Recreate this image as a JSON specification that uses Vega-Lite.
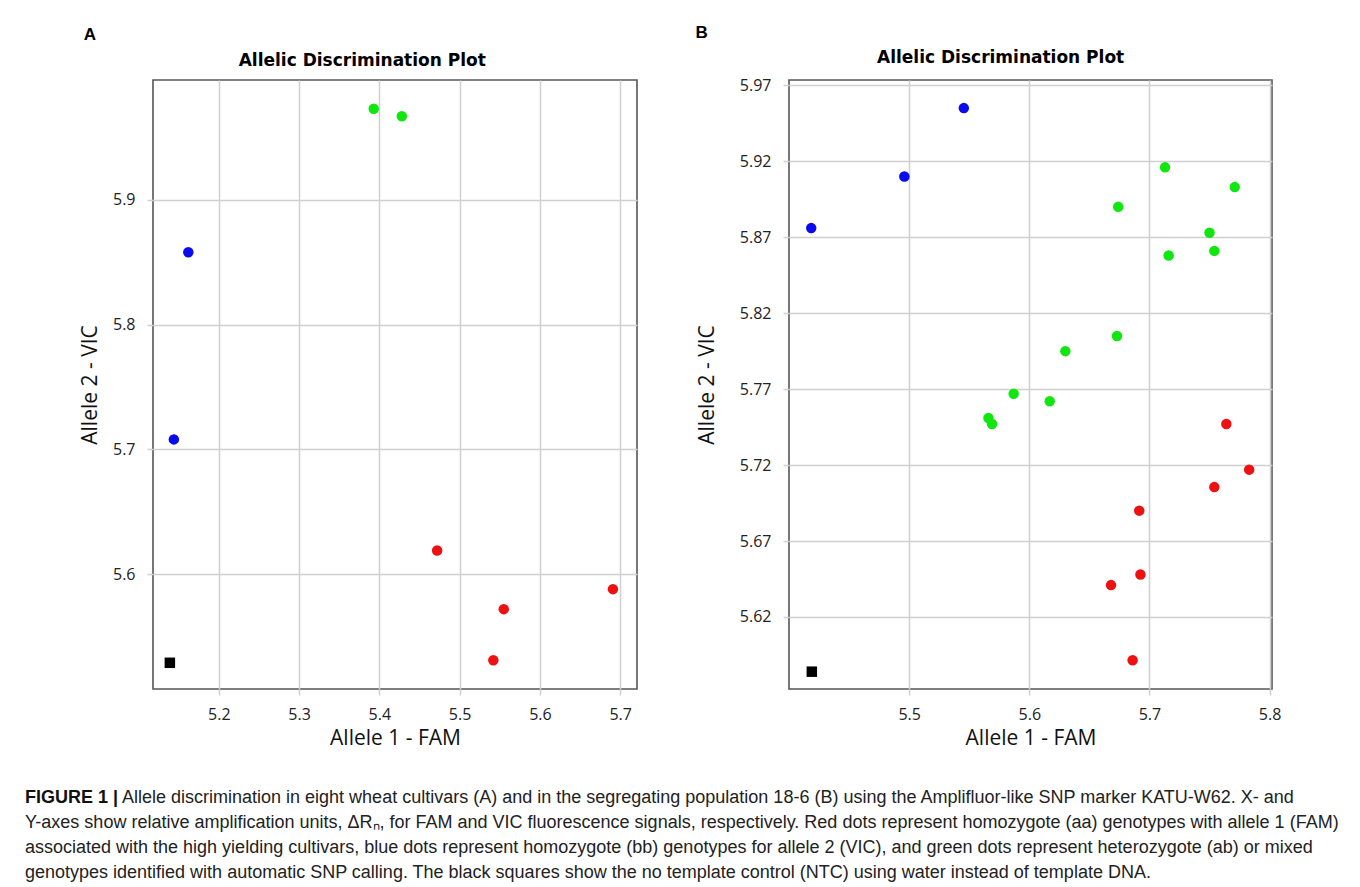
{
  "$schema": "https://vega.github.io/schema/vega-lite/v6.json",
  "padding": {"left": 25, "top": 23, "right": 5, "bottom": 5},
  "background": "white",
  "config": {
    "font": "Open Sans",
    "view": {"stroke": "#555555", "strokeWidth": 1.6},
    "axis": {
      "grid": true, "gridColor": "#d0d0d0", "gridWidth": 1.5, "domain": false,
      "ticks": true, "tickColor": "#d0d0d0", "tickSize": 6, "tickWidth": 1.5,
      "labelFont": "Open Sans", "labelFontSize": 16, "labelColor": "#222222", "labelPadding": 11,
      "labelFlush": false, "labelOverlap": false,
      "titleFont": "Open Sans", "titleFontWeight": "normal", "titleFontSize": 21, "titleColor": "#111111"
    },
    "concat": {"spacing": 57}
  },
  "datasets": {
    "A": [
      {"fam": 5.472, "vic": 5.619, "genotype": "aa"},
      {"fam": 5.691, "vic": 5.588, "genotype": "aa"},
      {"fam": 5.555, "vic": 5.572, "genotype": "aa"},
      {"fam": 5.542, "vic": 5.531, "genotype": "aa"},
      {"fam": 5.162, "vic": 5.858, "genotype": "bb"},
      {"fam": 5.144, "vic": 5.708, "genotype": "bb"},
      {"fam": 5.393, "vic": 5.973, "genotype": "ab"},
      {"fam": 5.428, "vic": 5.967, "genotype": "ab"},
      {"fam": 5.139, "vic": 5.529, "genotype": "NTC"}
    ],
    "B": [
      {"fam": 5.4185, "vic": 5.876, "genotype": "bb"},
      {"fam": 5.496, "vic": 5.910, "genotype": "bb"},
      {"fam": 5.5455, "vic": 5.955, "genotype": "bb"},
      {"fam": 5.713, "vic": 5.916, "genotype": "ab"},
      {"fam": 5.771, "vic": 5.903, "genotype": "ab"},
      {"fam": 5.674, "vic": 5.890, "genotype": "ab"},
      {"fam": 5.750, "vic": 5.873, "genotype": "ab"},
      {"fam": 5.754, "vic": 5.861, "genotype": "ab"},
      {"fam": 5.716, "vic": 5.858, "genotype": "ab"},
      {"fam": 5.673, "vic": 5.805, "genotype": "ab"},
      {"fam": 5.630, "vic": 5.795, "genotype": "ab"},
      {"fam": 5.587, "vic": 5.767, "genotype": "ab"},
      {"fam": 5.617, "vic": 5.762, "genotype": "ab"},
      {"fam": 5.566, "vic": 5.751, "genotype": "ab"},
      {"fam": 5.569, "vic": 5.747, "genotype": "ab"},
      {"fam": 5.764, "vic": 5.747, "genotype": "aa"},
      {"fam": 5.783, "vic": 5.717, "genotype": "aa"},
      {"fam": 5.754, "vic": 5.7055, "genotype": "aa"},
      {"fam": 5.6915, "vic": 5.690, "genotype": "aa"},
      {"fam": 5.6925, "vic": 5.648, "genotype": "aa"},
      {"fam": 5.668, "vic": 5.641, "genotype": "aa"},
      {"fam": 5.686, "vic": 5.5915, "genotype": "aa"},
      {"fam": 5.419, "vic": 5.584, "genotype": "NTC"}
    ],
    "caption": [
      {"line": 1, "part": "bold", "text": "FIGURE 1 |"},
      {"line": 1, "part": "rest", "text": "Allele discrimination in eight wheat cultivars (A) and in the segregating population 18-6 (B) using the Amplifluor-like SNP marker KATU-W62. X- and"},
      {"line": 2, "part": "body", "text": "Y-axes show relative amplification units, ΔRₙ, for FAM and VIC fluorescence signals, respectively. Red dots represent homozygote (aa) genotypes with allele 1 (FAM)"},
      {"line": 3, "part": "body", "text": "associated with the high yielding cultivars, blue dots represent homozygote (bb) genotypes for allele 2 (VIC), and green dots represent heterozygote (ab) or mixed"},
      {"line": 4, "part": "body", "text": "genotypes identified with automatic SNP calling. The black squares show the no template control (NTC) using water instead of template DNA."}
    ]
  },
  "vconcat": [
    {
      "hconcat": [
        {
          "title": {"text": "A", "anchor": "start", "font": "Liberation Sans", "fontSize": 17, "fontWeight": "bold", "color": "#000000", "baseline": "alphabetic", "offset": -6, "dx": 5},
          "vconcat": [
            {
              "title": {"text": "Allelic Discrimination Plot", "anchor": "middle", "frame": "bounds", "font": "DejaVu Sans", "fontSize": 17, "fontWeight": "bold", "color": "#000000", "baseline": "alphabetic", "offset": -3, "dx": 4},
              "width": 484,
              "height": 609,
              "data": {"name": "A"},
              "mark": {"type": "point", "filled": true, "opacity": 1, "size": 110},
              "encoding": {
                "x": {"field": "fam", "type": "quantitative", "scale": {"domain": [5.118, 5.721], "nice": false, "zero": false},
                      "axis": {"values": [5.2, 5.3, 5.4, 5.5, 5.6, 5.7], "format": ".1f", "title": "Allele 1 - FAM", "titlePadding": 5}},
                "y": {"field": "vic", "type": "quantitative", "scale": {"domain": [5.508, 5.996], "nice": false, "zero": false},
                      "axis": {"values": [5.6, 5.7, 5.8, 5.9], "format": ".1f", "title": "Allele 2 - VIC", "titlePadding": 12, "labelPadding": 12}},
                "color": {"field": "genotype", "type": "nominal", "scale": {"domain": ["aa", "bb", "ab", "NTC"], "range": ["#ee1111", "#0a0aee", "#11e611", "#000000"]}, "legend": null},
                "shape": {"field": "genotype", "type": "nominal", "scale": {"domain": ["aa", "bb", "ab", "NTC"], "range": ["circle", "circle", "circle", "square"]}, "legend": null}
              }
            }
          ]
        },
        {
          "title": {"text": "B", "anchor": "start", "font": "Liberation Sans", "fontSize": 17, "fontWeight": "bold", "color": "#000000", "baseline": "alphabetic", "offset": -6, "dx": 0},
          "vconcat": [
            {
              "title": {"text": "Allelic Discrimination Plot", "anchor": "middle", "frame": "bounds", "font": "DejaVu Sans", "fontSize": 17, "fontWeight": "bold", "color": "#000000", "baseline": "alphabetic", "offset": -3, "dx": 12},
              "width": 483,
              "height": 609,
              "data": {"name": "B"},
              "mark": {"type": "point", "filled": true, "opacity": 1, "size": 110},
              "encoding": {
                "x": {"field": "fam", "type": "quantitative", "scale": {"domain": [5.4, 5.802], "nice": false, "zero": false},
                      "axis": {"values": [5.5, 5.6, 5.7, 5.8], "format": ".1f", "title": "Allele 1 - FAM", "titlePadding": 5}},
                "y": {"field": "vic", "type": "quantitative", "scale": {"domain": [5.5726, 5.9735], "nice": false, "zero": false},
                      "axis": {"values": [5.62, 5.67, 5.72, 5.77, 5.82, 5.87, 5.92, 5.97], "format": ".2f", "title": "Allele 2 - VIC", "titlePadding": 22, "labelPadding": 12}},
                "color": {"field": "genotype", "type": "nominal", "scale": {"domain": ["aa", "bb", "ab", "NTC"], "range": ["#ee1111", "#0a0aee", "#11e611", "#000000"]}, "legend": null},
                "shape": {"field": "genotype", "type": "nominal", "scale": {"domain": ["aa", "bb", "ab", "NTC"], "range": ["circle", "circle", "circle", "square"]}, "legend": null}
              }
            }
          ]
        }
      ]
    },
    {
      "width": 1200,
      "height": 75,
      "view": {"stroke": null},
      "data": {"name": "caption"},
      "encoding": {
        "x": {"datum": 0, "type": "quantitative", "scale": {"domain": [0, 1]}, "axis": null},
        "y": {"field": "line", "type": "ordinal", "scale": {"type": "point", "padding": 0}, "axis": null},
        "text": {"field": "text"}
      },
      "layer": [
        {"transform": [{"filter": "datum.part === 'bold'"}],
         "mark": {"type": "text", "align": "left", "baseline": "alphabetic", "font": "Liberation Sans", "fontSize": 18, "fontWeight": "bold", "color": "#111111", "dx": -128}},
        {"transform": [{"filter": "datum.part === 'rest'"}],
         "mark": {"type": "text", "align": "left", "baseline": "alphabetic", "font": "Liberation Sans", "fontSize": 18, "color": "#222222", "dx": -31}},
        {"transform": [{"filter": "datum.part === 'body'"}],
         "mark": {"type": "text", "align": "left", "baseline": "alphabetic", "font": "Liberation Sans", "fontSize": 18, "color": "#222222", "dx": -128}}
      ]
    }
  ],
  "spacing": 40
}
